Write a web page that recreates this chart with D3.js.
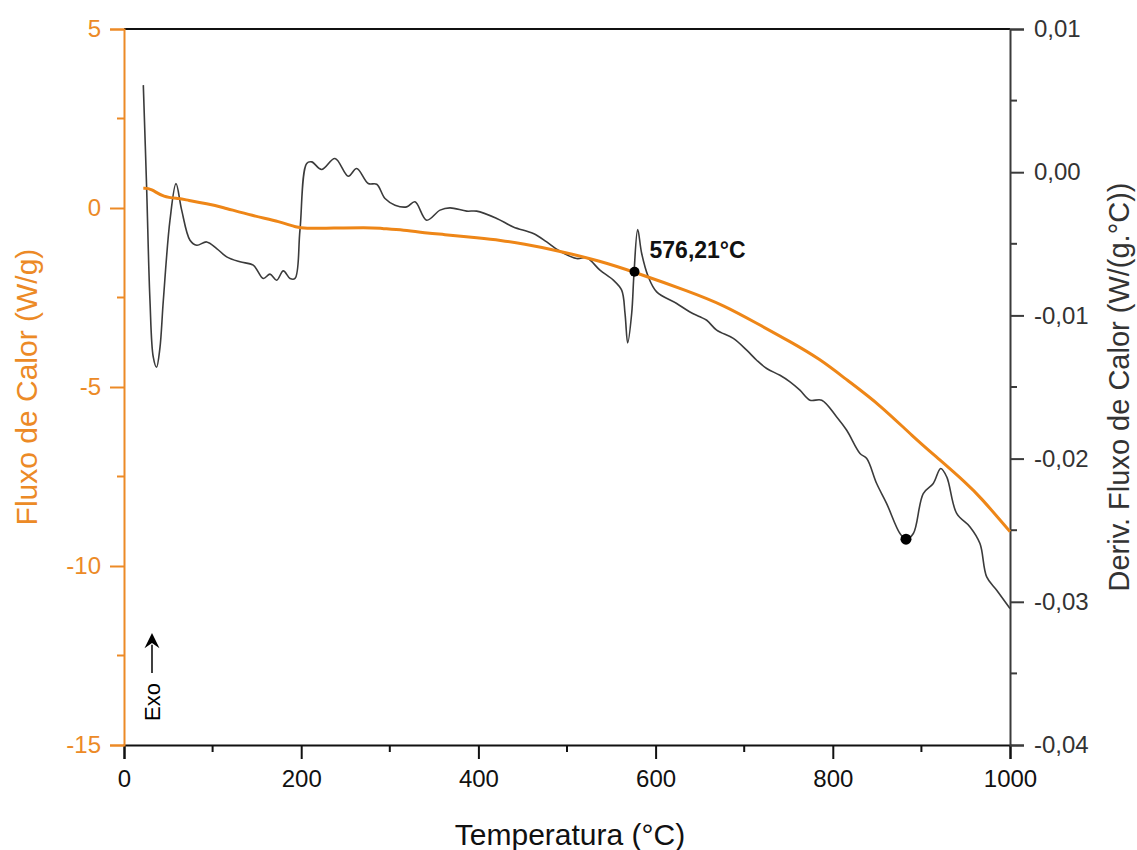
<!DOCTYPE html>
<html>
<head>
<meta charset="utf-8">
<script src="https://cdn.jsdelivr.net/npm/d3@7"></script>
<style>
  html, body { margin: 0; padding: 0; background: #ffffff; }
  svg { display: block; font-family: "Liberation Sans", Arial, sans-serif; }
</style>
</head>
<body>
<svg id="chart" width="1137" height="850"></svg>
<script>
// ---------- data ----------
const fluxoTemp = [21.8, 30.5, 44.4, 63.2, 70.8, 95.1, 108.4, 145.9, 176.1, 194.9, 206.2, 221.2, 277.7, 288.9, 314.9, 345.4, 356.7, 401.8, 424.4, 450.0, 489.8, 537.2, 574.8, 638.8, 676.4, 714.1, 751.7, 785.6, 815.7, 853.3, 890.5, 921.0, 950.3, 966.1, 1000];
const fluxoValue = [0.55, 0.55, 0.29, 0.27, 0.22, 0.11, 0.04, -0.22, -0.38, -0.55, -0.57, -0.57, -0.54, -0.57, -0.61, -0.71, -0.73, -0.84, -0.90, -1.00, -1.19, -1.48, -1.78, -2.34, -2.71, -3.22, -3.73, -4.22, -4.80, -5.50, -6.39, -7.04, -7.68, -8.06, -9.04];

const derivTemp = [21.8, 25.5, 29.3, 33.0, 36.7, 40.5, 44.4, 51.9, 58.7, 65.1, 74.5, 82.1, 93.3, 104.6, 115.9, 130.9, 145.9, 157.2, 164.8, 172.3, 179.8, 187.4, 193.0, 198.6, 206.2, 211.9, 223.1, 238.1, 253.2, 262.6, 275.7, 285.2, 294.6, 305.9, 319.1, 328.4, 341.6, 356.7, 367.9, 386.8, 398.1, 420.7, 439.4, 462.0, 477.1, 490.2, 510.9, 522.2, 537.2, 552.3, 561.7, 565.5, 568.5, 573.0, 575.6, 579.8, 584.3, 591.8, 601.2, 623.8, 638.8, 650.1, 657.7, 668.9, 687.7, 702.8, 714.1, 725.4, 740.4, 751.7, 762.9, 774.3, 787.5, 804.4, 815.7, 830.7, 838.3, 849.5, 860.8, 875.8, 882.6, 890.9, 902.1, 913.4, 921.8, 928.6, 939.8, 954.9, 966.1, 973.7, 985.0, 1000];
const derivValue = [0.00608, -0.0010, -0.00894, -0.01290, -0.01362, -0.01230, -0.00894, -0.00335, -0.00080, -0.00265, -0.00475, -0.00510, -0.00487, -0.00533, -0.00591, -0.00626, -0.00649, -0.00742, -0.00712, -0.00754, -0.00689, -0.00742, -0.00742, -0.00405, 0.00061, 0.00072, 0.00019, 0.00096, -0.00028, 0.00026, -0.00079, -0.00084, -0.00184, -0.00230, -0.00242, -0.00207, -0.00335, -0.00265, -0.00249, -0.00272, -0.00272, -0.00323, -0.00382, -0.00428, -0.00487, -0.00545, -0.00603, -0.00598, -0.00684, -0.00754, -0.00824, -0.00987, -0.01192, -0.00987, -0.00707, -0.00400, -0.00568, -0.00731, -0.00836, -0.00917, -0.00976, -0.01010, -0.01034, -0.01103, -0.01161, -0.01243, -0.01313, -0.01371, -0.01418, -0.01464, -0.01522, -0.01592, -0.01592, -0.01709, -0.01802, -0.01964, -0.01999, -0.02174, -0.02314, -0.02523, -0.02563, -0.02523, -0.02244, -0.02174, -0.02069, -0.02128, -0.02383, -0.02477, -0.02593, -0.02826, -0.02919, -0.03047];

const xTicks = [0, 200, 400, 600, 800, 1000];
const xMinorTicks = [100, 300, 500, 700, 900];
const leftTicks = [5, 0, -5, -10, -15];
const leftTickLabels = ["5", "0", "-5", "-10", "-15"];
const leftMinorTicks = [2.5, -2.5, -7.5, -12.5];
const rightTicks = [0.01, 0.00, -0.01, -0.02, -0.03, -0.04];
const rightTickLabels = ["0,01", "0,00", "-0,01", "-0,02", "-0,03", "-0,04"];
const rightMinorTicks = [0.005, -0.005, -0.015, -0.025, -0.035];

const annotTemp = 576.21, annotFluxo = -1.78, annotLabel = "576,21°C";
const minTemp = 882.6, minDeriv = -0.02563;

const xTitle = "Temperatura (°C)";
const leftTitle = "Fluxo de Calor (W/g)";
const rightTitle = "Deriv. Fluxo de Calor (W/(g.°C))";

// ---------- layout ----------
const ORANGE = "#EC8A26";
const ORANGE_LINE = "#EE8617";
const DARK = "#3b3b3b";
const svg = d3.select("#chart");
const x = d3.scaleLinear().domain([0, 1000]).range([124, 1010]);
const yL = d3.scaleLinear().domain([-15, 5]).range([745, 29]);
const yR = d3.scaleLinear().domain([-0.04, 0.01]).range([745, 29]);

// top frame line
svg.append("line").attr("x1", x(0)).attr("x2", x(1000)).attr("y1", yL(5)).attr("y2", yL(5))
  .attr("stroke", "#111").attr("stroke-width", 2);

// bottom axis
const xAxis = svg.append("g").attr("transform", `translate(0,${yL(-15)})`)
  .call(d3.axisBottom(x).tickValues(xTicks).tickSize(14).tickPadding(11).tickFormat(d3.format("d")));
xAxis.append("g").selectAll("line").data(xMinorTicks).join("line")
  .attr("x1", d => x(d)).attr("x2", d => x(d)).attr("y1", 0).attr("y2", 7);
xAxis.selectAll("path.domain").attr("stroke", "#111").attr("stroke-width", 2);
xAxis.selectAll("line").attr("stroke", "#111").attr("stroke-width", 2);
xAxis.selectAll("text").attr("fill", "#111").style("font-size", "24px");

// left axis
const lAxis = svg.append("g").attr("transform", `translate(${x(0)},0)`)
  .call(d3.axisLeft(yL).tickValues(leftTicks).tickSize(14).tickPadding(9)
    .tickFormat((d, i) => leftTickLabels[i]));
lAxis.append("g").selectAll("line").data(leftMinorTicks).join("line")
  .attr("y1", d => yL(d)).attr("y2", d => yL(d)).attr("x1", 0).attr("x2", -7);
lAxis.selectAll("path.domain").attr("stroke", ORANGE).attr("stroke-width", 2);
lAxis.selectAll("line").attr("stroke", ORANGE).attr("stroke-width", 2);
lAxis.selectAll("text").attr("fill", ORANGE).style("font-size", "24px");

// right axis
const rAxis = svg.append("g").attr("transform", `translate(${x(1000)},0)`)
  .call(d3.axisRight(yR).tickValues(rightTicks).tickSize(14).tickPadding(10)
    .tickFormat((d, i) => rightTickLabels[i]));
rAxis.append("g").selectAll("line").data(rightMinorTicks).join("line")
  .attr("y1", d => yR(d)).attr("y2", d => yR(d)).attr("x1", 0).attr("x2", 7);
rAxis.selectAll("path.domain").attr("stroke", DARK).attr("stroke-width", 2);
rAxis.selectAll("line").attr("stroke", DARK).attr("stroke-width", 2);
rAxis.selectAll("text").attr("fill", "#333").style("font-size", "24px");

// curves
const derivData = derivTemp.map((t, i) => [t, derivValue[i]]);
const fluxoData = fluxoTemp.map((t, i) => [t, fluxoValue[i]]);

svg.append("path").datum(derivData)
  .attr("fill", "none").attr("stroke", DARK).attr("stroke-width", 1.6)
  .attr("d", d3.line().x(d => x(d[0])).y(d => yR(d[1])).curve(d3.curveCatmullRom.alpha(0.5)));

svg.append("path").datum(fluxoData)
  .attr("fill", "none").attr("stroke", ORANGE_LINE).attr("stroke-width", 3)
  .attr("d", d3.line().x(d => x(d[0])).y(d => yL(d[1])).curve(d3.curveBasis));

// markers
svg.append("circle").attr("cx", x(annotTemp)).attr("cy", yL(annotFluxo)).attr("r", 5).attr("fill", "#000");
svg.append("circle").attr("cx", x(minTemp)).attr("cy", yR(minDeriv)).attr("r", 5.5).attr("fill", "#000");
svg.append("text").attr("x", x(annotTemp) + 15).attr("y", yL(annotFluxo) - 14)
  .attr("font-weight", "bold").style("font-size", "23px").attr("fill", "#111").text(annotLabel);

// Exo arrow
const ax = x(31.6);
svg.append("line").attr("x1", ax).attr("x2", ax).attr("y1", yL(-12.99)).attr("y2", yL(-12.2))
  .attr("stroke", "#000").attr("stroke-width", 1.5);
svg.append("path")
  .attr("d", `M${ax},${yL(-11.87)} L${ax - 7.5},${yL(-12.3)} L${ax},${yL(-12.15)} L${ax + 7.5},${yL(-12.3)} Z`)
  .attr("fill", "#000");
svg.append("text").attr("transform", `translate(${x(40.6)},${yL(-13.8)}) rotate(-90)`)
  .attr("text-anchor", "middle").style("font-size", "22px").attr("fill", "#000").text("Exo");

// titles
svg.append("text").attr("x", (x(0) + x(1000)) / 2 + 3).attr("y", 845)
  .attr("text-anchor", "middle").style("font-size", "30px").attr("fill", "#111").text(xTitle);
svg.append("text").attr("transform", `translate(37,${(yL(5) + yL(-15)) / 2}) rotate(-90)`)
  .attr("text-anchor", "middle").style("font-size", "30px").attr("fill", ORANGE).text(leftTitle);
svg.append("text").attr("transform", `translate(1129,${(yL(5) + yL(-15)) / 2}) rotate(-90)`)
  .attr("text-anchor", "middle").style("font-size", "29px").attr("fill", "#333").text(rightTitle);
</script>
</body>
</html>
